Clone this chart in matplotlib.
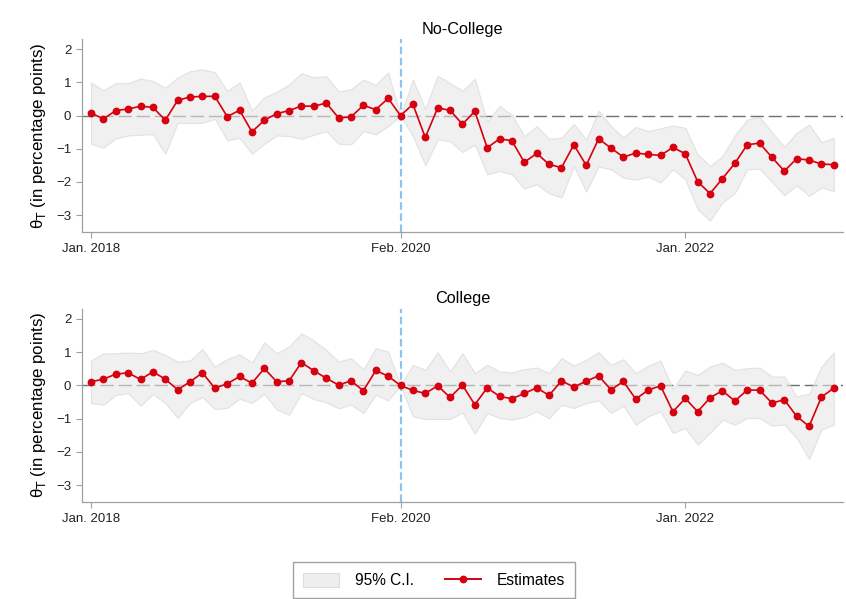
import numpy as np
import matplotlib
matplotlib.use("Agg")
import matplotlib.pyplot as plt
from matplotlib.lines import Line2D
from matplotlib.patches import Patch

plt.rcParams['font.family'] = ['Liberation Sans', 'DejaVu Sans']

# months since Jan. 2018 (Jan. 2018 .. Jan. 2023)
months = np.arange(61)
tick_pos = [0, 25, 48]
tick_labels = ['Jan. 2018', 'Feb. 2020', 'Jan. 2022']
event_month = 25  # Feb. 2020 (reference month)

# No-College
nc_est = [0.08, -0.10, 0.15, 0.20, 0.28, 0.25, -0.14, 0.46, 0.56, 0.58, 0.58, -0.03, 0.16, -0.49, -0.14, 0.06, 0.15, 0.29, 0.28,
          0.38, -0.07, -0.04, 0.31, 0.18, 0.52, 0.00, 0.34, -0.66, 0.23, 0.16, -0.26, 0.13, -0.97, -0.70, -0.76, -1.41, -1.14, -1.47, -1.57, -0.88,
          -1.50, -0.70, -0.98, -1.25, -1.13, -1.17, -1.20, -0.96, -1.15, -1.99, -2.35, -1.90, -1.44, -0.88, -0.83, -1.26, -1.67, -1.30, -1.34, -1.46, -1.48]
nc_hi = [1.00, 0.76, 0.98, 0.98, 1.12, 1.04, 0.84, 1.15, 1.34, 1.39, 1.31, 0.74, 1.00, 0.15, 0.55, 0.72, 0.94, 1.28, 1.15,
         1.19, 0.73, 0.80, 1.08, 0.93, 1.30, 0.00, 1.08, 0.20, 1.20, 0.98, 0.75, 1.11, -0.18, 0.29, 0.02, -0.62, -0.32, -0.70, -0.67, -0.25,
         -0.72, 0.15, -0.32, -0.65, -0.34, -0.47, -0.38, -0.30, -0.37, -1.17, -1.52, -1.22, -0.60, -0.12, -0.04, -0.50, -0.94, -0.52, -0.27, -0.80, -0.67]
nc_lo = [-0.85, -0.97, -0.69, -0.60, -0.58, -0.56, -1.15, -0.22, -0.22, -0.22, -0.10, -0.75, -0.67, -1.15, -0.85, -0.60, -0.62, -0.70, -0.58,
         -0.47, -0.85, -0.87, -0.47, -0.57, -0.32, 0.00, -0.62, -1.50, -0.72, -0.77, -1.10, -0.87, -1.77, -1.67, -1.77, -2.20, -2.07, -2.34, -2.47, -1.52,
         -2.29, -1.54, -1.62, -1.87, -1.93, -1.84, -2.02, -1.62, -1.92, -2.82, -3.17, -2.62, -2.34, -1.62, -1.60, -2.00, -2.40, -2.10, -2.42, -2.17, -2.28]

# College
c_est = [0.11, 0.19, 0.34, 0.38, 0.18, 0.41, 0.19, -0.13, 0.11, 0.38, -0.08, 0.05, 0.27, 0.07, 0.51, 0.11, 0.14, 0.69, 0.44,
         0.22, 0.01, 0.14, -0.16, 0.45, 0.28, 0.00, -0.15, -0.24, -0.01, -0.36, 0.01, -0.58, -0.07, -0.33, -0.40, -0.24, -0.07, -0.30, 0.14, -0.05,
         0.13, 0.29, -0.13, 0.12, -0.41, -0.14, -0.01, -0.79, -0.39, -0.79, -0.37, -0.16, -0.47, -0.14, -0.14, -0.53, -0.43, -0.93, -1.23, -0.35, -0.08]
c_hi = [0.75, 0.97, 0.97, 0.99, 0.97, 1.07, 0.92, 0.72, 0.75, 1.10, 0.57, 0.79, 0.94, 0.69, 1.30, 0.97, 1.17, 1.57, 1.35,
        1.07, 0.72, 0.82, 0.49, 1.12, 1.02, 0.00, 0.62, 0.47, 1.00, 0.42, 0.97, 0.37, 0.62, 0.42, 0.39, 0.49, 0.54, 0.37, 0.82, 0.60,
        0.77, 1.00, 0.62, 0.79, 0.37, 0.59, 0.75, -0.11, 0.45, 0.32, 0.57, 0.69, 0.47, 0.52, 0.54, 0.27, 0.27, -0.33, -0.25, 0.57, 1.00]
c_lo = [-0.53, -0.58, -0.29, -0.23, -0.61, -0.26, -0.53, -0.98, -0.53, -0.35, -0.71, -0.68, -0.40, -0.53, -0.25, -0.73, -0.88, -0.23, -0.41,
        -0.51, -0.69, -0.58, -0.83, -0.28, -0.45, 0.00, -0.93, -1.01, -1.01, -1.01, -0.81, -1.45, -0.83, -0.98, -1.03, -0.95, -0.78, -0.99, -0.58, -0.68,
        -0.53, -0.45, -0.83, -0.61, -1.18, -0.93, -0.78, -1.43, -1.28, -1.78, -1.43, -1.03, -1.18, -0.98, -0.98, -1.21, -1.18, -1.58, -2.21, -1.33, -1.18]

RED = '#d7000f'
BAND = '#e6e6e6'
BAND_EDGE = '#d4d4d4'
VLINE = '#8cc4ec'
SPINE = '#a0a0a0'


def event_panel(ax, est, lo, hi, title):
    ax.axhline(0, color='#707070', lw=1.0, dashes=(9.5, 3.5), zorder=1)
    ax.fill_between(months, lo, hi, facecolor=BAND, edgecolor=BAND_EDGE,
                    lw=0.8, alpha=0.6, zorder=2)
    ax.axvline(event_month, color=VLINE, lw=1.6, dashes=(3.4, 1.6), zorder=3)
    ax.plot(months, est, color=RED, lw=1.2, marker='o', ms=4.6, zorder=4)

    ax.set_xlim(-0.75, 60.75)
    ax.set_ylim(-3.5, 2.3)
    ax.set_yticks([-3, -2, -1, 0, 1, 2])
    ax.set_xticks(tick_pos)
    ax.set_xticklabels(tick_labels)
    ax.set_title(title, fontsize=11.7, pad=4)
    ax.set_ylabel('θ$_\\mathrm{T}$ (in percentage points)', fontsize=12.2, labelpad=6)
    for s in ['top', 'right']:
        ax.spines[s].set_visible(False)
    for s in ['left', 'bottom']:
        ax.spines[s].set_color(SPINE)
        ax.spines[s].set_linewidth(0.9)
    ax.tick_params(axis='both', colors=SPINE, labelcolor='#222222',
                   labelsize=9.5, length=4, width=0.8)
    ax.tick_params(axis='x', pad=4)


fig = plt.figure(figsize=(8.46, 5.99), dpi=100)
ax1 = fig.add_axes([0.0966, 0.6132, 0.900, 0.3212])
ax2 = fig.add_axes([0.0966, 0.1624, 0.900, 0.3217])

event_panel(ax1, nc_est, nc_lo, nc_hi, 'No-College')
event_panel(ax2, c_est, c_lo, c_hi, 'College')

handles = [
    Patch(facecolor='#eeeeee', edgecolor='#dddddd', lw=0.8),
    Line2D([], [], color=RED, lw=1.4, marker='o', ms=4.6),
]
fig.legend(handles, ['95% C.I.', 'Estimates'], loc='center',
           bbox_to_anchor=(434 / 846, 0.031), ncol=2, fontsize=11.2,
           frameon=True, fancybox=False, edgecolor='#888888',
           handlelength=2.3, handleheight=1.1, columnspacing=2.0,
           borderpad=0.65, handletextpad=1.0)

fig.savefig('out.png', dpi=100)
